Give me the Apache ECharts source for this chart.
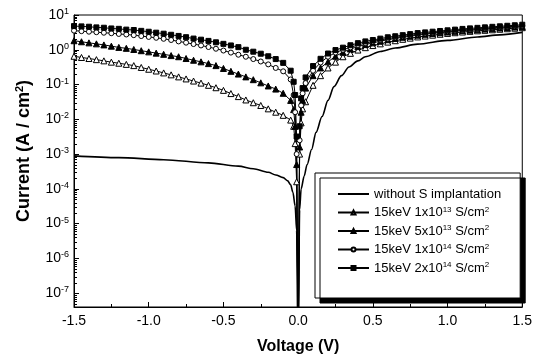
<!DOCTYPE html>
<html>
<head>
<meta charset="utf-8">
<script src="https://cdn.jsdelivr.net/npm/echarts@6/dist/echarts.min.js"></script>
<style>
  html, body { margin: 0; padding: 0; background: #fff; }
  #chart { width: 535px; height: 360px; }
</style>
</head>
<body>
<div id="chart"></div>
<script>
// I-V curves, log current axis

// voltage sweep shared by the implanted samples
const voltage = [
  -1.5, -1.45, -1.4, -1.35, -1.3, -1.25, -1.2, -1.15, -1.1, -1.05,
  -1.0, -0.95, -0.9, -0.85, -0.8, -0.75, -0.7, -0.65, -0.6, -0.55,
  -0.5, -0.45, -0.4, -0.35, -0.3, -0.25, -0.2, -0.15, -0.1, -0.05,
  -0.03, -0.02, -0.01, 0, 0.01, 0.02, 0.03,
  0.05, 0.1, 0.15, 0.2, 0.25, 0.3, 0.35, 0.4, 0.45, 0.5,
  0.55, 0.6, 0.65, 0.7, 0.75, 0.8, 0.85, 0.9, 0.95, 1.0,
  1.05, 1.1, 1.15, 1.2, 1.25, 1.3, 1.35, 1.4, 1.45, 1.5
]

// reference diode (no implantation), own sweep points
const voltageRef = [
  -1.5, -1.2, -0.9, -0.6, -0.4, -0.3, -0.2, -0.15, -0.1, -0.07, -0.05, -0.035, -0.02, -0.01,
  0, 0.01, 0.02, 0.04, 0.06, 0.09, 0.12, 0.16, 0.2, 0.24, 0.29, 0.34, 0.4, 0.45,
  0.55, 0.65, 0.8, 1.0, 1.2, 1.35, 1.5
]
const currentRef = [
  8.9e-4, 7.9e-4, 6.9e-4, 5.6e-4, 4.5e-4, 3.8e-4, 3.0e-4, 2.5e-4, 2.1e-4, 1.7e-4, 1.3e-4, 7.9e-5, 3.2e-5, 6.3e-6,
  1e-9, 2.5e-5, 1.0e-4, 2.3e-4, 5.0e-4, 1.35e-3, 4.2e-3, 1.2e-2, 3.5e-2, 8.7e-2, 0.18, 0.32, 0.48, 0.63,
  0.89, 1.12, 1.45, 1.86, 2.34, 2.69, 3.16
]

const current1e13 = [
  0.65, 0.60, 0.56, 0.52, 0.48, 0.44, 0.41, 0.38, 0.35, 0.31,
  0.275, 0.245, 0.216, 0.19, 0.166, 0.145, 0.126, 0.11, 0.095, 0.081,
  0.068, 0.055, 0.045, 0.036, 0.030, 0.025, 0.020, 0.016, 0.013, 0.0095,
  6.3e-3, 2.0e-3, 1.6e-4, 1e-9, 1.0e-3, 7.9e-3, 0.020,
  0.032, 0.095, 0.18, 0.30, 0.44, 0.63, 0.79, 0.98, 1.15, 1.32,
  1.48, 1.66, 1.82, 2.0, 2.16, 2.34, 2.48, 2.63, 2.79, 2.95,
  3.09, 3.24, 3.39, 3.51, 3.63, 3.76, 3.89, 4.03, 4.17, 4.32
]
const current5e13 = [
  1.82, 1.70, 1.58, 1.48, 1.38, 1.27, 1.17, 1.10, 1.02, 0.94,
  0.87, 0.80, 0.74, 0.68, 0.63, 0.56, 0.50, 0.45, 0.40, 0.35,
  0.29, 0.24, 0.20, 0.166, 0.138, 0.112, 0.091, 0.074, 0.056, 0.035,
  0.019, 6.3e-3, 5.0e-4, 1e-9, 1.6e-3, 0.016, 0.035,
  0.079, 0.18, 0.30, 0.45, 0.65, 0.85, 1.05, 1.23, 1.41, 1.58,
  1.76, 1.95, 2.11, 2.29, 2.45, 2.63, 2.79, 2.95, 3.09, 3.24,
  3.39, 3.55, 3.67, 3.80, 3.94, 4.07, 4.22, 4.37, 4.52, 4.68
]
const current1e14 = [
  3.55, 3.43, 3.31, 3.20, 3.09, 2.99, 2.85, 2.75, 2.63, 2.48,
  2.34, 2.21, 2.07, 1.91, 1.74, 1.60, 1.46, 1.33, 1.20, 1.07,
  0.95, 0.83, 0.72, 0.63, 0.54, 0.46, 0.38, 0.30, 0.24, 0.14,
  0.05, 0.016, 1.0e-3, 1e-9, 2.5e-3, 0.025, 0.056,
  0.11, 0.25, 0.43, 0.63, 0.83, 1.0, 1.17, 1.38, 1.55, 1.74,
  1.91, 2.09, 2.26, 2.43, 2.60, 2.79, 2.92, 3.09, 3.24, 3.39,
  3.55, 3.72, 3.85, 3.98, 4.12, 4.27, 4.42, 4.57, 4.73, 4.90
]
const current2e14 = [
  4.8, 4.7, 4.6, 4.4, 4.3, 4.1, 4.0, 3.8, 3.7, 3.5,
  3.3, 3.1, 2.9, 2.7, 2.5, 2.3, 2.1, 1.95, 1.8, 1.64,
  1.48, 1.33, 1.19, 1.0, 0.88, 0.77, 0.65, 0.54, 0.42, 0.25,
  0.12, 0.05, 3.2e-3, 1e-9, 6.3e-3, 0.04, 0.079,
  0.16, 0.34, 0.55, 0.78, 0.98, 1.15, 1.35, 1.55, 1.74, 1.91,
  2.09, 2.29, 2.45, 2.63, 2.82, 3.02, 3.16, 3.31, 3.47, 3.63,
  3.80, 3.98, 4.12, 4.27, 4.42, 4.57, 4.73, 4.90, 5.07, 5.25
]

const seriesNames = [
  'without S implantation',
  '15keV 1x10^13 S/cm^2',
  '15keV 5x10^13 S/cm^2',
  '15keV 1x10^14 S/cm^2',
  '15keV 2x10^14 S/cm^2'
]
// same labels with rich-text superscripts
const legendLabels = [
  'without S implantation',
  '15keV 1x10{sup|13} S/cm{sup|2}',
  '15keV 5x10{sup|13} S/cm{sup|2}',
  '15keV 1x10{sup|14} S/cm{sup|2}',
  '15keV 2x10{sup|14} S/cm{sup|2}'
]

// log minor ticks: 2..9 x 10^n inside the axis range
const minorMultipliers = [2, 3, 4, 5, 6, 7, 8, 9]
const minorDecades = [-8, -7, -6, -5, -4, -3, -2, -1, 0]
const yMin = 4e-8
const yMax = 10
const minorTickValues = []
minorDecades.forEach(d => {
  minorMultipliers.forEach(m => {
    const v = m * Math.pow(10, d)
    if (v > yMin && v < yMax) minorTickValues.push(v)
  })
})

const FONT = '"Liberation Sans", Arial, sans-serif'

function pairs(xs, ys) {
  return xs.map((x, i) => [x, ys[i]])
}

// marker series: line + symbol, open symbols are white filled
function markerSeries(name, ys, symbol, size, open) {
  return {
    name: name,
    type: 'line',
    data: pairs(voltage, ys),
    symbol: symbol,
    symbolSize: size,
    showSymbol: true,
    lineStyle: { color: '#000', width: 1 },
    itemStyle: {
      color: open ? '#fff' : '#000',
      borderColor: '#000',
      borderWidth: 1
    },
    emphasis: { disabled: true }
  }
}

const chart = echarts.init(document.getElementById('chart'))

chart.setOption({
  animation: false,
  backgroundColor: '#fff',
  grid: {
    left: 74, right: 12, top: 15, bottom: 52,
    show: true, borderColor: '#000', borderWidth: 1
  },
  xAxis: {
    type: 'value',
    min: -1.5, max: 1.5, interval: 0.5,
    name: 'Voltage (V)',
    nameLocation: 'middle',
    nameGap: 32,
    nameTextStyle: { fontFamily: FONT, fontSize: 16, fontWeight: 'bold', color: '#000' },
    axisLine: { onZero: false, lineStyle: { color: '#000', width: 1 } },
    axisTick: { inside: true, length: 5, lineStyle: { color: '#000' } },
    minorTick: { show: true, splitNumber: 2, length: 3, lineStyle: { color: '#000' } },
    splitLine: { show: false },
    axisLabel: {
      fontFamily: FONT, fontSize: 14, color: '#000', margin: 7,
      formatter: v => v.toFixed(1)
    }
  },
  yAxis: {
    type: 'log',
    logBase: 10,
    min: yMin, max: yMax,
    name: 'Current (A / cm{sup|2})',
    nameLocation: 'middle',
    nameGap: 38,
    nameTextStyle: {
      fontFamily: FONT, fontSize: 18, fontWeight: 'bold', color: '#000', lineHeight: 20,
      padding: [0, 0, 0, 20],
      rich: { sup: { fontFamily: FONT, fontSize: 11, fontWeight: 'bold', color: '#000', lineHeight: 8, verticalAlign: 'top' } }
    },
    axisLine: { show: true, onZero: false, lineStyle: { color: '#000', width: 1 } },
    axisTick: { inside: true, length: 5, lineStyle: { color: '#000' } },
    minorTick: { show: false },
    splitLine: { show: false },
    axisLabel: {
      fontFamily: FONT, fontSize: 14, color: '#000', margin: 5, lineHeight: 16,
      showMinLabel: false,
      formatter: v => '10{sup|' + Math.round(Math.log10(v)) + '}',
      rich: { sup: { fontFamily: FONT, fontSize: 9, color: '#000', lineHeight: 6, verticalAlign: 'top' } }
    }
  },
  legend: {
    orient: 'vertical',
    left: 315, top: 173,
    padding: [14, 19, 23, 22],
    backgroundColor: '#fff',
    borderColor: '#000',
    borderWidth: 1,
    shadowColor: '#000',
    shadowBlur: 0,
    shadowOffsetX: 5,
    shadowOffsetY: 5,
    itemWidth: 31,
    itemHeight: 5,
    itemGap: 4.5,
    lineStyle: { width: 2 },
    data: [
      { name: seriesNames[0], itemStyle: { opacity: 0 } },
      seriesNames[1], seriesNames[2], seriesNames[3], seriesNames[4]
    ],
    formatter: name => legendLabels[seriesNames.indexOf(name)],
    textStyle: {
      fontFamily: FONT, fontSize: 13, color: '#000', lineHeight: 14,
      rich: { sup: { fontFamily: FONT, fontSize: 8, color: '#000', lineHeight: 6, verticalAlign: 'top' } }
    }
  },
  series: [
    {
      name: seriesNames[0],
      type: 'line',
      data: pairs(voltageRef, currentRef),
      symbol: 'none',
      smooth: 0.3,
      smoothMonotone: 'x',
      lineStyle: { color: '#000', width: 1.6 },
      itemStyle: { color: '#000' },
      emphasis: { disabled: true }
    },
    markerSeries(seriesNames[1], current1e13, 'triangle', 6, true),
    markerSeries(seriesNames[2], current5e13, 'triangle', 6, false),
    markerSeries(seriesNames[3], current1e14, 'circle', 5, true),
    markerSeries(seriesNames[4], current2e14, 'rect', 5, false),
    {
      // minor ticks on the log axis, placed through the axis scale
      type: 'custom',
      silent: true,
      clip: false,
      data: minorTickValues.map(v => [-1.5, v]),
      renderItem: (params, api) => {
        const p = api.coord([api.value(0), api.value(1)])
        const y = Math.round(p[1]) + 0.5
        return {
          type: 'line',
          shape: { x1: p[0], y1: y, x2: p[0] + 3, y2: y },
          style: { stroke: '#000', lineWidth: 1 }
        }
      }
    }
  ]
})
</script>
</body>
</html>
